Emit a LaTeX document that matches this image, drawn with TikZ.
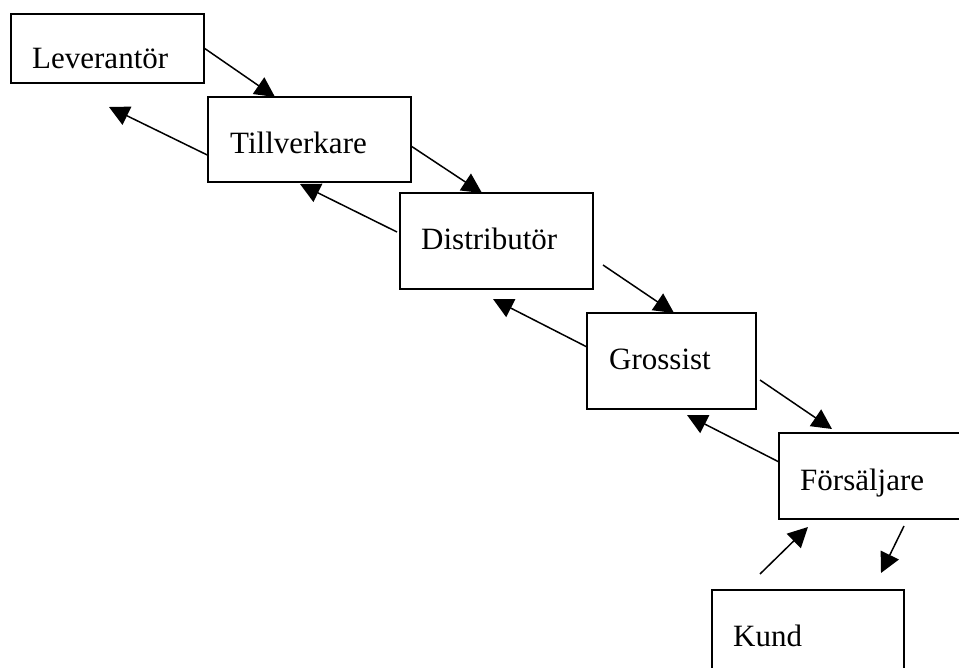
\documentclass[tikz,border=0pt]{standalone}
\usepackage{fontspec}
\setmainfont{Liberation Serif}
\usetikzlibrary{arrows.meta}

\begin{document}
\begin{tikzpicture}[x=1pt, y=-1pt,
    box/.style={draw, line width=1.5pt, inner sep=0pt},
    lbl/.style={anchor=base west, inner sep=0pt, font=\fontsize{31}{36}\selectfont},
    flow/.style={line width=1.5pt, -{Triangle[length=20pt, width=20pt]}}]
    \useasboundingbox (0,0) rectangle (959,668);

    % Boxes
    \node[box, minimum width=193pt, minimum height=69pt] (lev) at (107.5,48.5) {};
    \node[lbl] (levtxt) at (32,69) {Leverantör};

    \node[box, minimum width=203pt, minimum height=85pt] (till) at (309.5,139.5) {};
    \node[lbl] (tilltxt) at (230,154) {Tillverkare};

    \node[box, minimum width=193pt, minimum height=96pt] (dist) at (496.5,241) {};
    \node[lbl] (disttxt) at (421,250) {Distributör};

    \node[box, minimum width=169pt, minimum height=96pt] (gross) at (671.5,361) {};
    \node[lbl] (grosstxt) at (609,370) {Grossist};

    \node[box, minimum width=191pt, minimum height=86pt] (fors) at (874.5,476) {};
    \node[lbl] (forstxt) at (800,490) {Försäljare};

    \node[box, minimum width=192pt, minimum height=90pt] (kund) at (808,635) {};
    \node[lbl] (kundtxt) at (733,646) {Kund};

    % End points of the arrows
    \coordinate (tillin) at (275,97);
    \coordinate (tillout) at (109,107);
    \coordinate (tillfrom) at (411,146);
    \coordinate (distin) at (482,193);
    \coordinate (distfrom) at (397,232);
    \coordinate (distout) at (300,184);
    \coordinate (distdown) at (603,265);
    \coordinate (grossin) at (674,313);
    \coordinate (grossfrom) at (587,347);
    \coordinate (grossout) at (493,299);
    \coordinate (grossdown) at (760,380);
    \coordinate (forsin) at (832,429);
    \coordinate (forsfrom) at (779,462);
    \coordinate (forsout) at (687,415);
    \coordinate (kundup) at (760,574);
    \coordinate (forsbottom) at (808,527);
    \coordinate (forsdown) at (904,526);
    \coordinate (kundtop) at (881,573);

    % Flow downwards
    \draw[flow] (lev.east) -- (tillin);
    \draw[flow] (tillfrom) -- (distin);
    \draw[flow] (distdown) -- (grossin);
    \draw[flow] (grossdown) -- (forsin);
    \draw[flow] (forsdown) -- (kundtop);

    % Flow upwards
    \draw[flow] (till.west |- 0,155) -- (tillout);
    \draw[flow] (distfrom) -- (distout);
    \draw[flow] (grossfrom) -- (grossout);
    \draw[flow] (forsfrom) -- (forsout);
    \draw[flow] (kundup) -- (forsbottom);
\end{tikzpicture}
\end{document}
